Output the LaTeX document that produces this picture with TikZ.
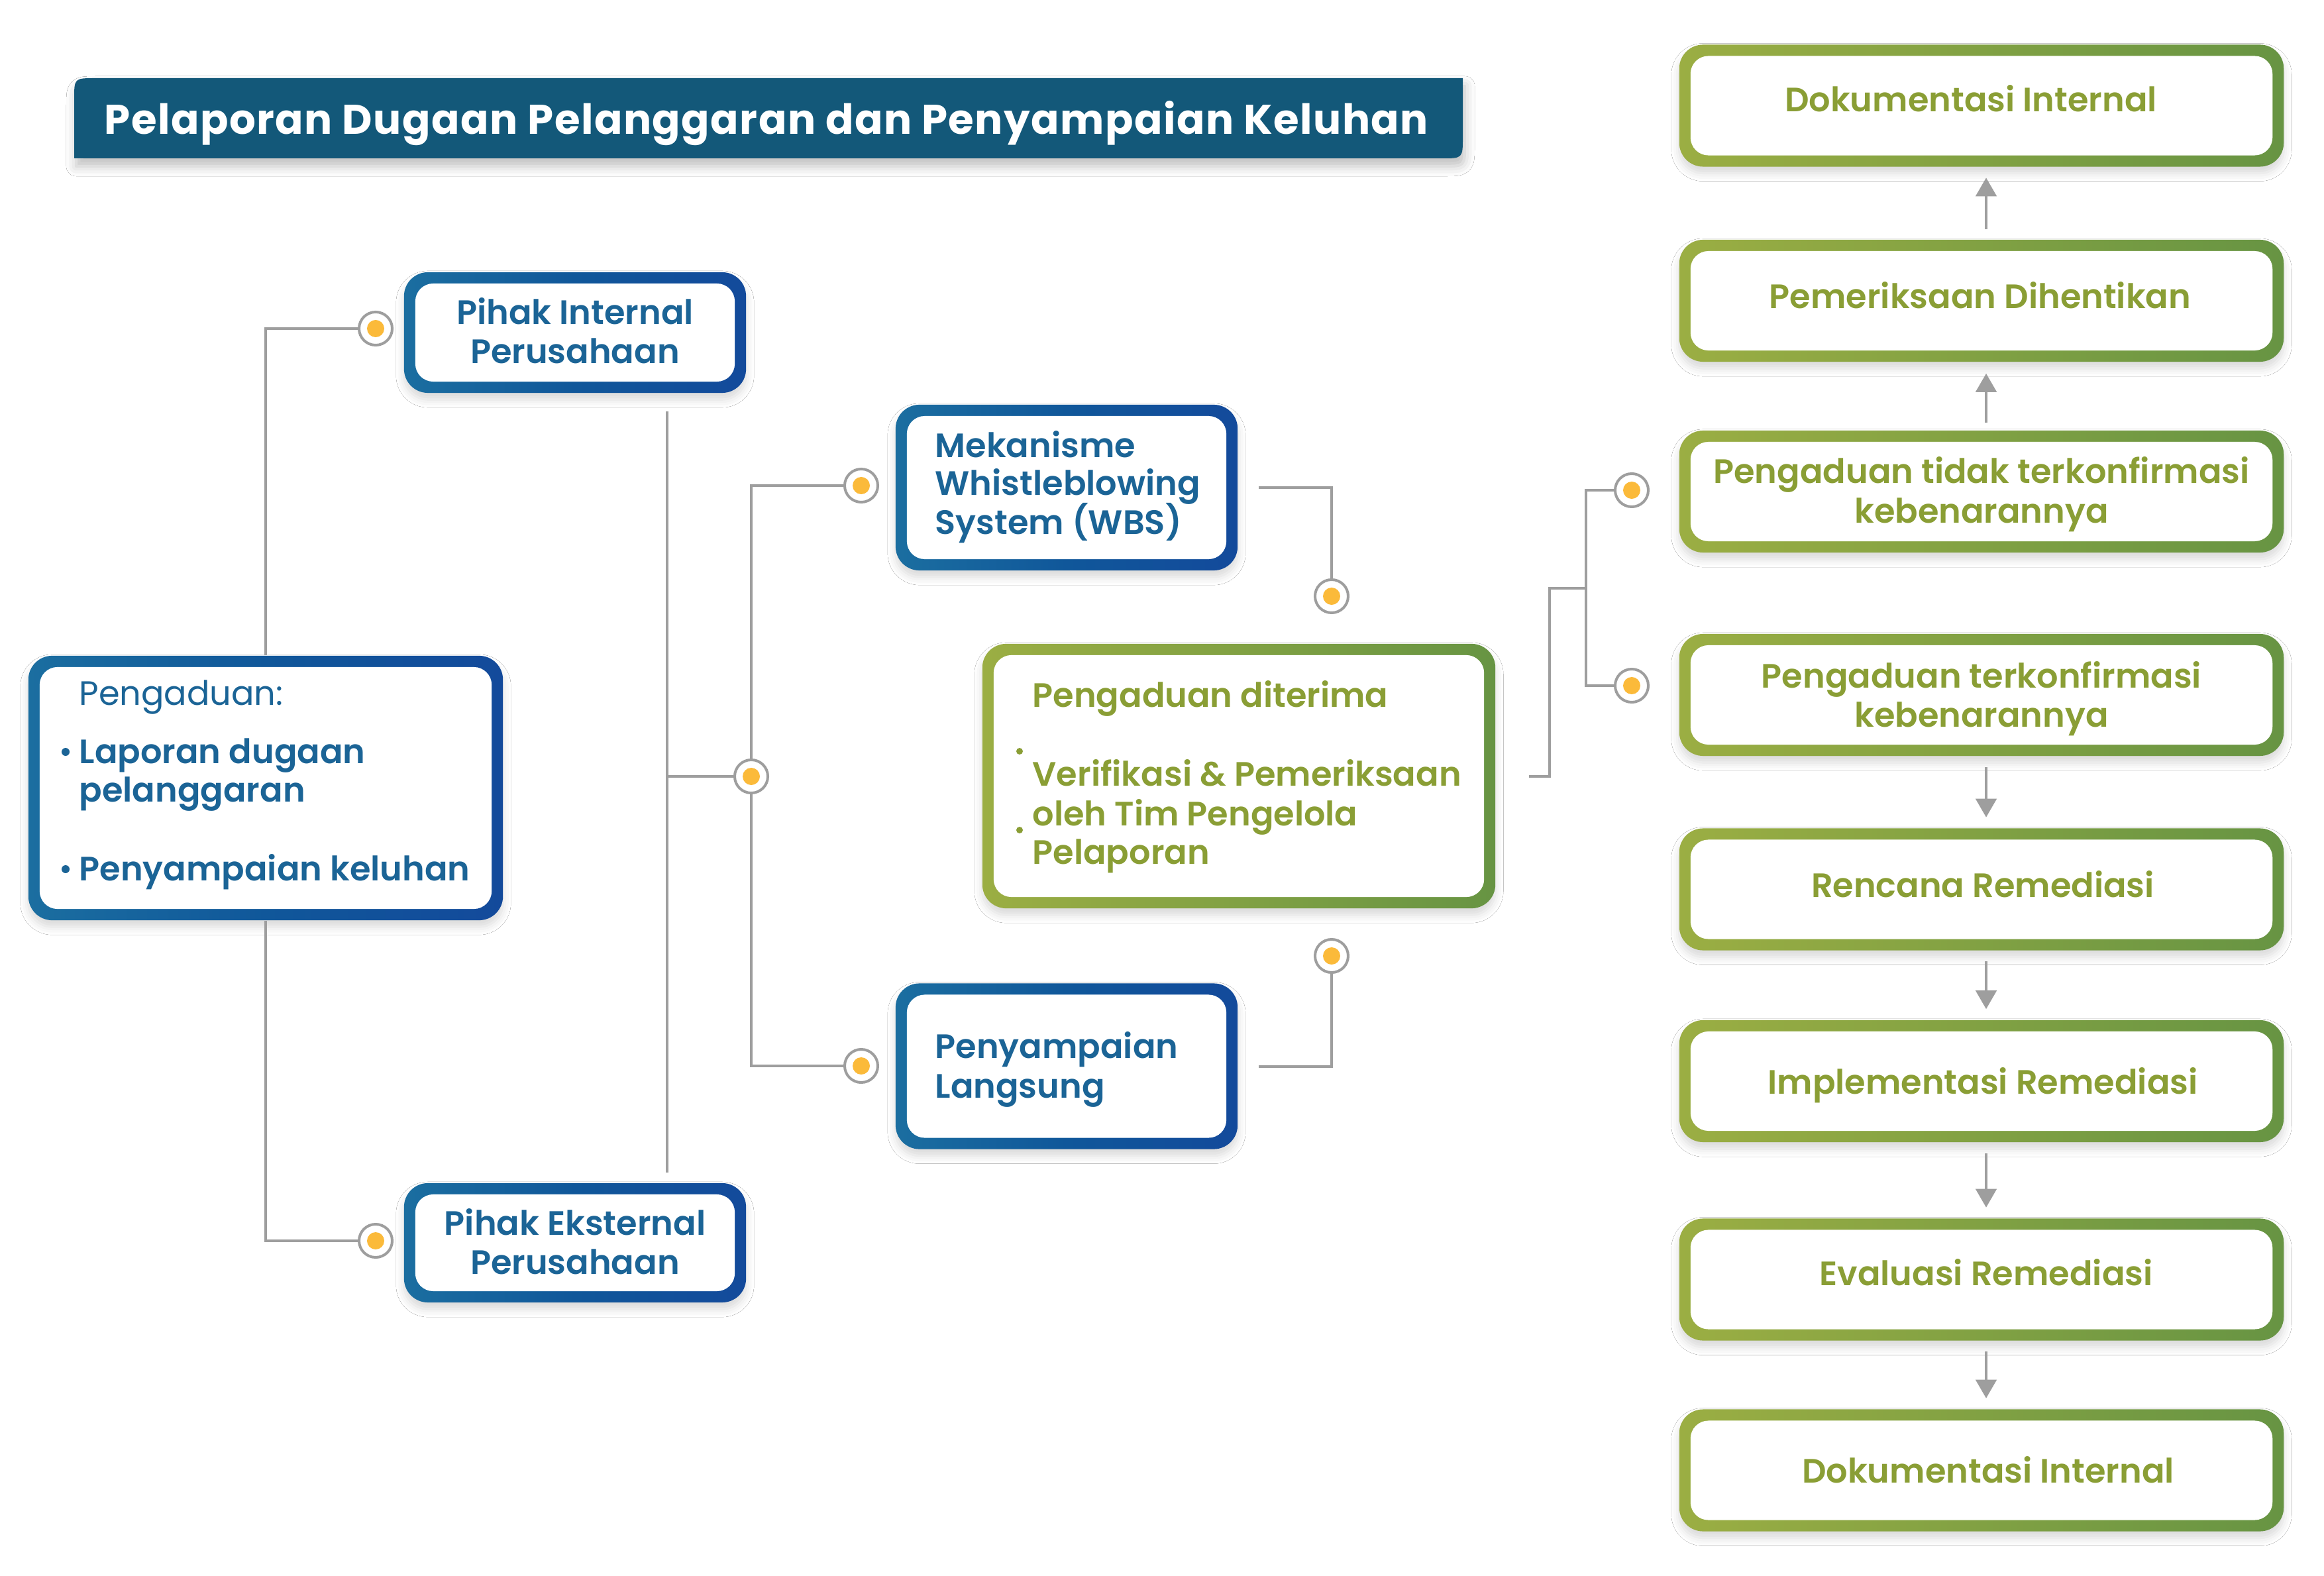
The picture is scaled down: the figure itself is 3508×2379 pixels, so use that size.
\documentclass[tikz,border=0pt]{standalone}
\usepackage{fontspec}
\setmainfont{Poppins}[BoldFont={Poppins SemiBold}]
\newfontfamily\ttlfont{Poppins Bold}[LetterSpace=2.4]
\usetikzlibrary{arrows.meta,shadows.blur}
\definecolor{bL}{HTML}{1B6EA0}
\definecolor{bM}{HTML}{10579A}
\definecolor{bR}{HTML}{134A9B}
\definecolor{gL}{HTML}{9BAE43}
\definecolor{gR}{HTML}{679443}
\definecolor{btxt}{HTML}{1B6496}
\definecolor{gtxt}{HTML}{8A9E35}
\definecolor{ttl}{HTML}{135879}
\definecolor{lnc}{HTML}{9E9E9E}
\definecolor{dotc}{HTML}{FBBA3A}
\newcommand\bxfont{\fontsize{14.5}{17}\selectfont\bfseries}
\newcommand\rgfont{\fontsize{14.5}{17}\selectfont}
\tikzset{
  boxbase/.style={rectangle, rounded corners=0.36cm, inner sep=0pt,
    blur shadow={shadow xshift=0cm, shadow yshift=-0.1cm, shadow blur radius=0.12cm, shadow opacity=15},
    path picture={\fill[white, rounded corners=0.27cm]
      ([xshift=0.17cm,yshift=-0.17cm]path picture bounding box.north west) rectangle
      ([xshift=-0.17cm,yshift=0.17cm]path picture bounding box.south east);}},
  bluebox/.style={boxbase, left color=bL, right color=bR, middle color=bM},
  greenbox/.style={boxbase, left color=gL, right color=gR},
  conn/.style={circle, draw=lnc, line width=0.04cm, fill=white, minimum size=0.5cm, inner sep=0pt,
    path picture={\fill[dotc] (path picture bounding box.center) circle (0.13cm);}},
  ln/.style={draw=lnc, line width=0.04cm},
  arr/.style={draw=lnc, line width=0.045cm, -{Triangle[width=0.31cm,length=0.28cm]}},
  btext/.style={inner sep=0pt, font=\bxfont, text=btxt, anchor=base},
  gtext/.style={inner sep=0pt, font=\bxfont, text=gtxt, anchor=base},
  bbul/.style={circle, fill=btxt, minimum size=0.12cm, inner sep=0pt},
  gbul/.style={circle, fill=gtxt, minimum size=0.1cm, inner sep=0pt},
}
\begin{document}
\begin{tikzpicture}[x=0.01cm, y=-0.01cm]
\useasboundingbox (0,0) rectangle (3508,2379);
\fill[white] (0,0) rectangle (3508,2379);

% title banner
\path[fill=ttl, blur shadow={shadow xshift=0.03cm, shadow yshift=-0.12cm, shadow blur radius=0.15cm, shadow opacity=25}]
  (112,239) -- (112,150) .. controls (112,118) .. (144,118) -- (2208,118) -- (2208,207)
  .. controls (2208,239) .. (2176,239) -- cycle;
\node[anchor=base west, inner sep=0pt, text=white, font=\fontsize{17.8}{20}\ttlfont] (title) at (157,203)
  {Pelaporan Dugaan Pelanggaran dan Penyampaian Keluhan};

% blue boxes
\node[bluebox, minimum width=7.16cm, minimum height=3.99cm] (peng) at (401,1189.5) {};
\node[bluebox, minimum width=5.16cm, minimum height=1.82cm] (pint) at (868,502) {};
\node[bluebox, minimum width=5.16cm, minimum height=1.80cm] (pext) at (868,1876) {};
\node[bluebox, minimum width=5.16cm, minimum height=2.50cm] (wbs) at (1610,736) {};
\node[bluebox, minimum width=5.16cm, minimum height=2.50cm] (lang) at (1610,1609.5) {};

% green boxes
\node[greenbox, minimum width=7.74cm, minimum height=3.99cm] (ditr) at (1870,1171.5) {};
\node[greenbox, minimum width=9.12cm, minimum height=1.84cm] (r1) at (2991,159.5) {};
\node[greenbox, minimum width=9.12cm, minimum height=1.84cm] (r2) at (2991,454) {};
\node[greenbox, minimum width=9.12cm, minimum height=1.84cm] (r3) at (2991,742) {};
\node[greenbox, minimum width=9.12cm, minimum height=1.84cm] (r4) at (2991,1049) {};
\node[greenbox, minimum width=9.12cm, minimum height=1.84cm] (r5) at (2991,1342.5) {};
\node[greenbox, minimum width=9.12cm, minimum height=1.84cm] (r6) at (2991,1632) {};
\node[greenbox, minimum width=9.12cm, minimum height=1.84cm] (r7) at (2991,1931.5) {};
\node[greenbox, minimum width=9.12cm, minimum height=1.84cm] (r8) at (2991,2219.5) {};

% texts: Pengaduan box
\node[inner sep=0pt, font=\rgfont, text=btxt, anchor=base west] (pengt0) at (119,1064) {Pengaduan:};
\node[btext, anchor=base west] (pengt1) at (119,1152) {Laporan dugaan};
\node[btext, anchor=base west] (pengt2) at (119,1210) {pelanggaran};
\node[btext, anchor=base west] (pengt3) at (119,1329) {Penyampaian keluhan};
\node[bbul] (pengb1) at (99,1135) {};
\node[bbul] (pengb2) at (99,1312) {};

% texts: blue boxes
\node[btext] (pintt1) at (868,490) {Pihak Internal};
\node[btext] (pintt2) at (868,549) {Perusahaan};
\node[btext] (pextt1) at (868,1864) {Pihak Eksternal};
\node[btext] (pextt2) at (868,1923) {Perusahaan};
\node[btext, anchor=base west] (wbst1) at (1411,690) {Mekanisme};
\node[btext, anchor=base west] (wbst2) at (1411,748) {Whistleblowing};
\node[btext, anchor=base west] (wbst3) at (1411,806) {System (WBS)};
\node[btext, anchor=base west] (langt1) at (1411,1597) {Penyampaian};
\node[btext, anchor=base west] (langt2) at (1411,1657) {Langsung};

% texts: green center box
\node[gtext, anchor=base west] (ditrt1) at (1558,1067) {Pengaduan diterima};
\node[gtext, anchor=base west] (ditrt2) at (1558,1186) {Verifikasi \& Pemeriksaan};
\node[gtext, anchor=base west] (ditrt3) at (1558,1246) {oleh Tim Pengelola};
\node[gtext, anchor=base west] (ditrt4) at (1558,1304) {Pelaporan};
\node[gbul] (ditrb1) at (1539,1134) {};
\node[gbul] (ditrb2) at (1539,1253) {};

% texts: right column
\node[gtext] (r1t) at (2975,169) {Dokumentasi Internal};
\node[gtext] (r2t) at (2989,466) {Pemeriksaan Dihentikan};
\node[gtext] (r3t1) at (2991,729) {Pengaduan tidak terkonfirmasi};
\node[gtext] (r3t2) at (2991,789) {kebenarannya};
\node[gtext] (r4t1) at (2991,1038) {Pengaduan terkonfirmasi};
\node[gtext] (r4t2) at (2991,1097) {kebenarannya};
\node[gtext] (r5t) at (2993,1354) {Rencana Remediasi};
\node[gtext] (r6t) at (2993,1651) {Implementasi Remediasi};
\node[gtext] (r7t) at (2998,1940) {Evaluasi Remediasi};
\node[gtext] (r8t) at (3001,2238) {Dokumentasi Internal};

% connector circles
\node[conn] (c1) at (567,496) {};
\node[conn] (c2) at (567,1873) {};
\node[conn] (c3) at (1134,1172) {};
\node[conn] (c4) at (1300,733) {};
\node[conn] (c5) at (1300,1609) {};
\node[conn] (c6) at (2010,900) {};
\node[conn] (c7) at (2010,1443) {};
\node[conn] (c8) at (2463,740) {};
\node[conn] (c9) at (2463,1035) {};

% connectors
\draw[ln] (peng.north) |- (c1.west);
\draw[ln] (peng.south) |- (c2.west);
\coordinate (v1t) at (1007,621);
\coordinate (v1b) at (1007,1770);
\coordinate (j0) at (1007,1172);
\draw[ln] (v1t) -- (v1b);
\draw[ln] (j0) -- (c3.west);
\draw[ln] (c4.west) -| (c3.north);
\draw[ln] (c5.west) -| (c3.south);
\draw[ln] ([xshift=0.31cm]wbs.east) -| (c6.north);
\draw[ln] ([xshift=0.31cm]lang.east) -| (c7.south);
\coordinate (j1) at (2394,888);
\draw[ln] ([xshift=0.5cm]ditr.east) -- ++(31,0) |- (j1);
\draw[ln] (c8.west) -| (j1);
\draw[ln] (c9.west) -| (j1);

% arrows
\draw[arr, shorten <=0.15cm, shorten >=0.16cm] ([xshift=0.07cm]r2.north) -- ([xshift=0.07cm]r1.south);
\draw[arr, shorten <=0.11cm, shorten >=0.17cm] ([xshift=0.07cm]r3.north) -- ([xshift=0.07cm]r2.south);
\draw[arr, shorten <=0.16cm, shorten >=0.16cm] ([xshift=0.07cm]r4.south) -- ([xshift=0.07cm]r5.north);
\draw[arr, shorten <=0.16cm, shorten >=0.16cm] ([xshift=0.07cm]r5.south) -- ([xshift=0.07cm]r6.north);
\draw[arr, shorten <=0.16cm, shorten >=0.16cm] ([xshift=0.07cm]r6.south) -- ([xshift=0.07cm]r7.north);
\draw[arr, shorten <=0.16cm, shorten >=0.16cm] ([xshift=0.07cm]r7.south) -- ([xshift=0.07cm]r8.north);
\end{tikzpicture}
\end{document}
